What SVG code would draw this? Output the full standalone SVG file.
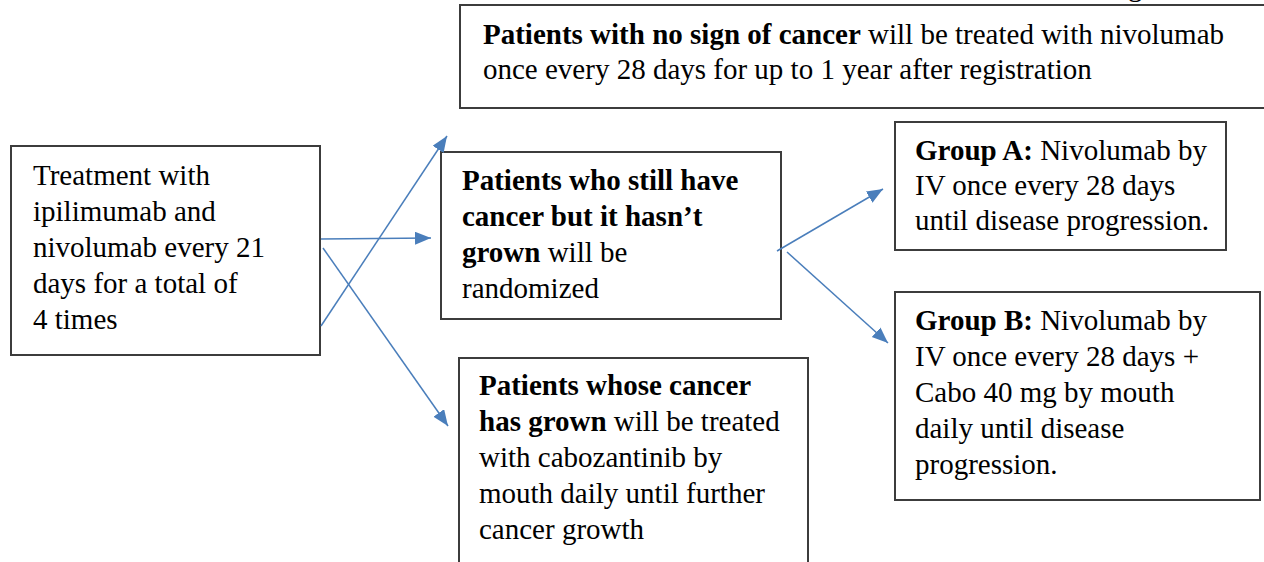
<svg xmlns="http://www.w3.org/2000/svg" width="1264" height="562" viewBox="0 0 1264 562">
<style>
.box{fill:#fff;stroke:#3c3c3c;stroke-width:2}
.t{font-family:"Liberation Serif","Times New Roman",serif;font-size:29px;fill:#000}
.b{font-weight:bold}
.c{stroke:#4a7ebb;stroke-width:1.5;fill:none;marker-end:url(#ah)}
</style>
<defs>
<marker id="ah" markerUnits="userSpaceOnUse" markerWidth="18" markerHeight="14" refX="16" refY="6.5" orient="auto">
<path d="M0,0 L16,6.5 L0,13 z" fill="#4a7ebb"/>
</marker>
</defs>
<rect width="1264" height="562" fill="#fff"/>
<text class="t" x="1128" y="-4">g</text>
<g id="node-top">
<rect class="box" x="460" y="5" width="820" height="103"/>
<text class="t" x="483" y="44"><tspan class="b">Patients with no sign of cancer</tspan> will be treated with nivolumab</text>
<text class="t" x="483" y="79">once every 28 days for up to 1 year after registration</text>
</g>
<g id="node-start">
<rect class="box" x="11" y="146" width="309" height="209"/>
<text class="t" x="33" y="185">Treatment with</text>
<text class="t" x="33" y="221">ipilimumab and</text>
<text class="t" x="33" y="257">nivolumab every 21</text>
<text class="t" x="33" y="293">days for a total of</text>
<text class="t" x="33" y="329">4 times</text>
</g>
<g id="node-stable">
<rect class="box" x="441" y="152" width="340" height="167"/>
<text class="t" x="462" y="190"><tspan class="b">Patients who still have</tspan></text>
<text class="t" x="462" y="226"><tspan class="b">cancer but it hasn’t</tspan></text>
<text class="t" x="462" y="262"><tspan class="b">grown</tspan> will be</text>
<text class="t" x="462" y="298">randomized</text>
</g>
<g id="node-grown">
<rect class="box" x="459" y="358" width="349" height="220"/>
<text class="t" x="479" y="395"><tspan class="b">Patients whose cancer</tspan></text>
<text class="t" x="479" y="431"><tspan class="b">has grown</tspan> will be treated</text>
<text class="t" x="479" y="467">with cabozantinib by</text>
<text class="t" x="479" y="503">mouth daily until further</text>
<text class="t" x="479" y="539">cancer growth</text>
</g>
<g id="node-groupA">
<rect class="box" x="895" y="122" width="331" height="128"/>
<text class="t" x="915" y="160"><tspan class="b">Group A:</tspan> Nivolumab by</text>
<text class="t" x="915" y="195">IV once every 28 days</text>
<text class="t" x="915" y="230">until disease progression.</text>
</g>
<g id="node-groupB">
<rect class="box" x="895" y="292" width="365" height="208"/>
<text class="t" x="915" y="330"><tspan class="b">Group B:</tspan> Nivolumab by</text>
<text class="t" x="915" y="366">IV once every 28 days +</text>
<text class="t" x="915" y="402">Cabo 40 mg by mouth</text>
<text class="t" x="915" y="438">daily until disease</text>
<text class="t" x="915" y="474">progression.</text>
</g>
<g id="connectors">
<line class="c" x1="321" y1="326" x2="447" y2="136"/>
<line class="c" x1="321" y1="239" x2="431" y2="238"/>
<line class="c" x1="323" y1="248" x2="448" y2="426"/>
<line class="c" x1="777" y1="251" x2="883" y2="189"/>
<line class="c" x1="787" y1="252" x2="888" y2="343"/>
</g>
</svg>
